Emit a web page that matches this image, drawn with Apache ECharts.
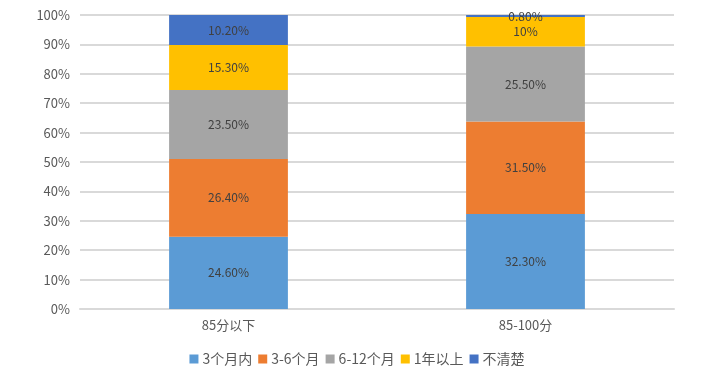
<!DOCTYPE html>
<html><head><meta charset="utf-8">
<script src="https://cdn.jsdelivr.net/npm/echarts@6/dist/echarts.min.js"></script>
<style>html,body{margin:0;padding:0;background:#fff}#c{width:714px;height:376px}</style>
</head><body><div id="c"></div>
<script>
const categories = ['85分以下', '85-100分'];
const seriesNames = ['3个月内', '3-6个月', '6-12个月', '1年以上', '不清楚'];
const values = [
  [24.6, 32.3],
  [26.4, 31.5],
  [23.5, 25.5],
  [15.3, 10],
  [10.2, 0.8]
];
const labelTexts = [
  ['24.60%', '32.30%'],
  ['26.40%', '31.50%'],
  ['23.50%', '25.50%'],
  ['15.30%', '10%'],
  ['10.20%', '0.80%']
];
const colors = ['#5B9BD5', '#ED7D31', '#A5A5A5', '#FFC000', '#4472C4'];
const yTicks = [0, 10, 20, 30, 40, 50, 60, 70, 80, 90, 100];

const font = '"Noto Sans CJK SC", "Microsoft YaHei", sans-serif';
const chart = echarts.init(document.getElementById('c'));
chart.setOption({
  animation: false,
  textStyle: { fontFamily: font },
  grid: { left: 80, right: 40, top: 15, bottom: 67, containLabel: false },
  legend: {
    bottom: 5, left: 'center', itemWidth: 9, itemHeight: 9, itemGap: 6,
    icon: 'rect',
    textStyle: { color: '#595959', fontSize: 14, fontFamily: font, padding: [0, 0, 0, -1] },
    data: seriesNames
  },
  xAxis: {
    type: 'category', data: categories,
    axisLine: { show: true, lineStyle: { color: '#D9D9D9', width: 2 } },
    axisTick: { show: false },
    axisLabel: { color: '#595959', fontSize: 13, margin: 10, fontFamily: font }
  },
  yAxis: {
    type: 'value', min: 0, max: 100, interval: 10,
    axisLine: { show: false }, axisTick: { show: false },
    splitLine: { lineStyle: { color: '#D9D9D9', width: 2 } },
    axisLabel: { color: '#595959', fontSize: 13, margin: 10, fontFamily: font,
      formatter: v => yTicks.includes(v) ? v + '%' : '' }
  },
  series: seriesNames.map((name, i) => ({
    name, type: 'bar', stack: 'total', barWidth: '40%',
    itemStyle: { color: colors[i] },
    data: values[i],
    label: {
      show: true, position: 'inside', color: '#404040', fontSize: 12, fontFamily: font,
      formatter: p => labelTexts[i][p.dataIndex]
    }
  }))
});
</script></body></html>
